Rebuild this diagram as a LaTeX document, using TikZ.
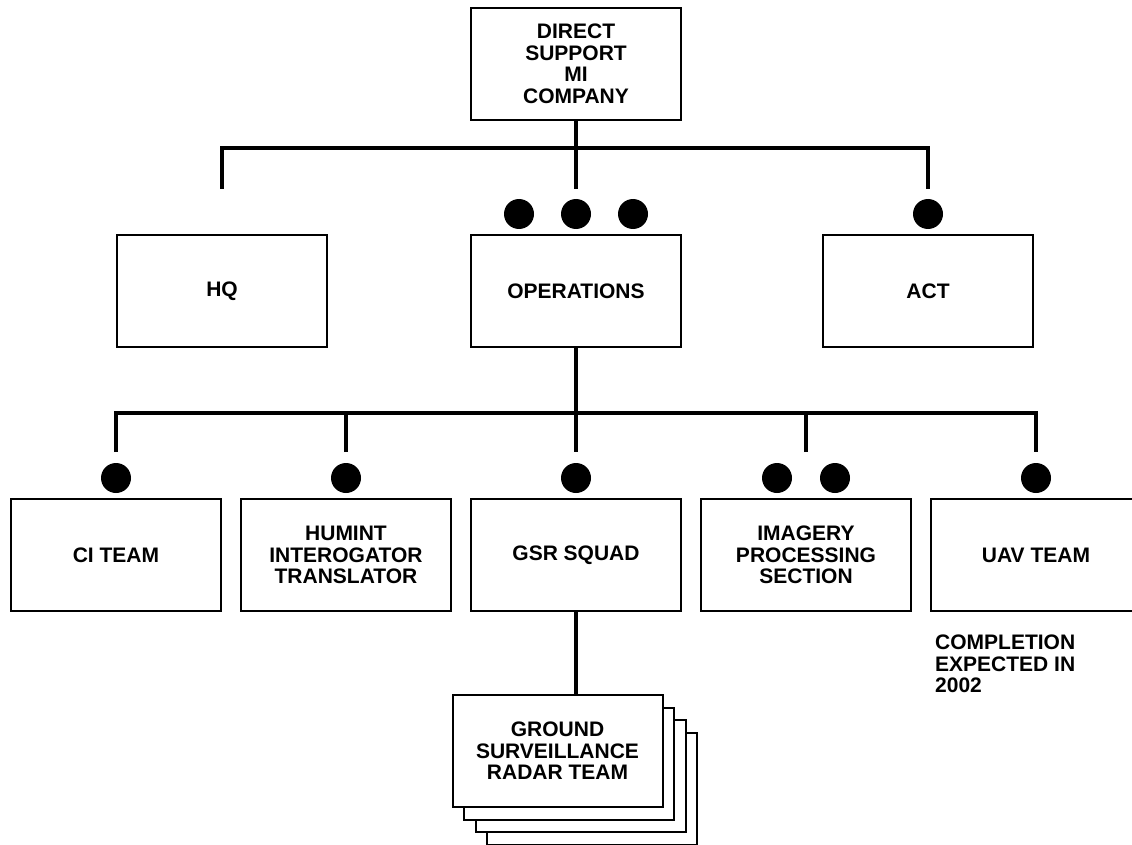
\documentclass[tikz,border=0pt]{standalone}
\usepackage{fontspec}
\setmainfont{Liberation Sans}
\usetikzlibrary{positioning, calc}

\begin{document}
\begin{tikzpicture}[x=1pt,y=-1pt,
    unit/.style={draw,line width=2pt,minimum width=210pt,minimum height=112pt,inner sep=0pt,
      align=center,font=\bfseries\fontsize{21}{21.5}\selectfont},
    bus/.style={line width=3.5pt},
    dot/.style={circle,fill,inner sep=0pt,minimum size=30pt}]
\clip (0,0) rectangle (1132,845);
\node[unit] (DS) at (576,64) {DIRECT\\SUPPORT\\MI\\COMPANY};
\node[unit] (HQ) at (222,291) {HQ};
\node[unit] (OPS) at (576,291) {OPERATIONS};
\node[unit] (ACT) at (928,291) {ACT};
\foreach \N/\T [count=\i] in {CI/CI TEAM,HUM/{HUMINT\\INTEROGATOR\\TRANSLATOR},GSR/GSR SQUAD,
                              IMG/{IMAGERY\\PROCESSING\\SECTION},UAV/UAV TEAM}
  {\node[unit] (\N) at ({116+(\i-1)*230},555) {\T};
   \coordinate (\N-in) at ([yshift=46pt]\N.north);}
\foreach \N in {HQ,OPS,ACT}
  {\coordinate (\N-in) at ([yshift=45pt]\N.north);}
\coordinate (bus1) at (576,148);
\coordinate (bus2) at (576,413);
% radar teams, stacked
\coordinate (R) at (557.5,751);
\foreach \s in {3,2,1}
  {\node[unit,fill=white] (R-\s) at ($(R)+(\s*11.5,\s*12.5)$) {};}
\node[unit,fill=white] (RAD) at (R) {GROUND\\SURVEILLANCE\\RADAR TEAM};
\node[anchor=north west,align=left,inner sep=0pt,font=\bfseries\fontsize{21}{21.5}\selectfont]
  (note) at (935,635) {COMPLETION\\EXPECTED IN\\2002};
% connectors
\draw[bus] (DS) -- (OPS-in);
\draw[bus] (HQ-in) |- (bus1) -| (ACT-in);
\draw[bus] (OPS) -- (GSR-in);
\draw[bus] (CI-in) |- (bus2) -| (UAV-in);
\foreach \N in {HUM,IMG}
  {\draw[bus] (\N-in) -- (\N-in |- bus2);}
\draw[bus] (GSR.south) -- (GSR.south |- RAD.north);
% dots
\foreach \dx in {-57,0,57}
  {\node[dot] at ([shift={(\dx,-20)}]OPS.north) {};}
\foreach \N in {ACT,CI,HUM,GSR,UAV}
  {\node[dot] at ([yshift=20pt]\N.north) {};}
\foreach \dx in {-29,29}
  {\node[dot] at ([shift={(\dx,-20)}]IMG.north) {};}
\end{tikzpicture}
\end{document}
